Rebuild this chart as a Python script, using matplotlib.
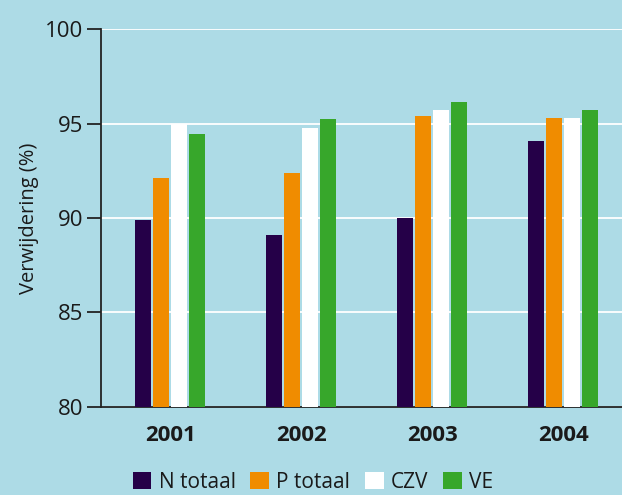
import matplotlib
matplotlib.use('Agg')
import matplotlib.pyplot as plt
import numpy as np
from matplotlib.patches import Patch

plt.rcParams['font.family'] = ['Open Sans', 'DejaVu Sans']

# data
jaren = ['2001', '2002', '2003', '2004']
n_totaal = [89.9, 89.1, 90.0, 94.1]
p_totaal = [92.1, 92.4, 95.4, 95.3]
czv = [95.0, 94.75, 95.7, 95.3]
ve = [94.45, 95.25, 96.15, 95.7]

series = ['N totaal', 'P totaal', 'CZV', 'VE']
kleuren = ['#250048', '#f08c00', '#ffffff', '#37a72b']
bg = '#addbe6'

fig = plt.figure(figsize=(6.22, 4.95), dpi=100, facecolor=bg)
ax = fig.add_axes([0.1624, 0.1778, 1 - 0.1624, 0.9414 - 0.1778])
ax.set_facecolor(bg)

x = np.arange(len(jaren))
w = 0.122
stap = 0.1375
for i, (vals, kl) in enumerate(zip([n_totaal, p_totaal, czv, ve], kleuren)):
    ax.bar(x + (i - 1.5) * stap, vals, width=w, color=kl, zorder=3, label=series[i])

ax.set_ylim(80, 100)
ax.set_xlim(-0.53, 3.447)
ax.set_yticks([80, 85, 90, 95, 100])
ax.yaxis.grid(True, color='white', lw=1.3, zorder=0)
ax.set_axisbelow(True)

for s in ['top', 'right']:
    ax.spines[s].set_visible(False)
ax.spines['left'].set_color('#222222')
ax.spines['bottom'].set_color('#222222')
ax.spines['left'].set_linewidth(1.3)
ax.spines['bottom'].set_linewidth(1.3)

ax.tick_params(axis='y', length=10, width=1.3, color='#222222', labelsize=16,
               labelcolor='#1a1a1a', pad=3)
ax.set_xticks(x)
ax.set_xticklabels(jaren, fontweight='bold', fontsize=16, color='#1a1a1a')
ax.tick_params(axis='x', length=0, pad=13)

ax.set_ylabel('Verwijdering (%)', fontsize=14.5, color='#1a1a1a', labelpad=4)

handles = [Patch(facecolor=k, edgecolor='none') for k in kleuren]
fig.legend(handles, series, loc='center', bbox_to_anchor=(0.503, 0.026),
           ncol=4, frameon=False, fontsize=15, handlelength=0.9, handleheight=0.9,
           handletextpad=0.35, columnspacing=0.7, labelcolor='#1a1a1a',
           borderpad=0.1)

fig.savefig('out.png', dpi=100, facecolor=bg)
